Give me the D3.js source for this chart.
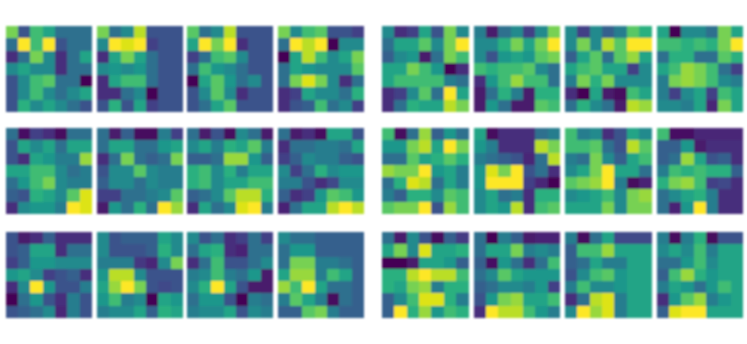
<!DOCTYPE html>
<html>
<head>
<meta charset="utf-8">
<script src="https://cdnjs.cloudflare.com/ajax/libs/d3/7.8.5/d3.min.js"></script>
<style>
    html, body { margin: 0; padding: 0; background: #fff; }
    svg { display: block; }
</style>
</head>
<body>
<svg id="chart" width="747" height="344"></svg>
<script>
// values, 0 (dark purple) .. 9 (yellow)
var a1 = [[7,2,6,5,3,3,3],[3,9,6,9,2,3,3],[1,3,7,4,1,3,5],[4,5,4,4,1,3,3],[2,4,6,6.5,3,3,0],[2,4,6,4,3,4,5],[2,5.5,4,5,4,3,2]];
var a2 = [[7,3,4,8,2,2,2],[4,9,8.5,9,1.5,2,2],[1,5,7,5,3,2,2],[4,4.5,4,4.5,3,2,2],[1,5,6,6,3,2,2],[1,1,3,4,0,2,2],[2,5.5,2,5,1.5,2,2]];
var a3 = [[6.5,3,4,8,2,2,2],[5,9,7,9,1,2,2],[1.5,3,6,6.5,4,2,2],[3,6,4.5,4,3,2,2],[0,5,6.5,4.5,3,4,2],[2,4,6.5,4,1,2,2],[2,3,5,6.5,2,2,2]];
var a4 = [[7,4,6,6.5,2,2,1.5],[3,9,8,9,0,4,4],[0,5,8,6,4,5,7],[3,5,4.5,4,4,4,6.5],[3,7,8.5,7,4,1,3],[1,1.5,5,4,4,3,5.5],[1,2,2.5,6,3,4,1.5]];
var a5 = [[4,1,1.5,5,2,7,4],[3,5,5,6.5,4,7,9],[2.5,4,4.5,0.5,3,7,6],[5,5,7,6,4.5,0,1],[5,6,6,6,6,3.5,3],[1,1.5,4,6.5,3,9,5],[1,3,5.5,5,5,8,7]];
var a6 = [[3.5,0.5,3,4,1.5,4,7],[4,4,5.5,7,5,7,9],[4,2,4.5,5,4.5,6.5,7],[6,5.5,6,6,6.5,4,3],[1,4.5,6,7.5,6,6,3],[0.5,3,5.5,3.5,0.5,5.5,5.5],[0.5,4.5,3,0.5,0.5,6.5,6]];
var a7 = [[4,1.5,4,2.5,3.5,6.5,5.5],[4,7,4,8,6.5,9,9],[2.5,5,6.5,3,6.5,7.5,5],[5,6,6.5,5,5,1.5,4],[3.5,7,5.5,7,4,4,4],[1,0,5,0.5,0.2,6,5],[3,5.5,4,3,0.5,8,7.5]];
var a8 = [[5,0,4,4,3,7,5],[6,6,5.5,6,5.5,7,9],[3,5.5,5.5,3,3,6.5,5.5],[5,6,7.5,7,6,3,1.5],[3.5,7,7.5,7,6,4,3.5],[3.5,1.5,4,5,1.5,6,5],[4,4,3.5,5,0.8,7,5]];

var b1 = [[3,0.3,1.5,1,0.2,3,3],[2,5,4,5,3,5,5],[2,1,5,4.5,3.5,3.5,7.5],[5,5,6,6,4,3,3.5],[3,4.5,6,7,4,3.5,3.5],[2.5,2,5.5,5,4,6.5,8.5],[1,4,4.5,4.5,3.5,9,8.5]];
var b2 = [[3,0.5,2.5,0.2,0.2,3.5,1.5],[3,5,5,3,3,4.5,5],[1,3,7,3,2.5,3,7],[2,4,4,6.5,4,3.5,3.5],[2.5,4,4,3,4,3.5,3.5],[1.5,1.5,3,3,3.5,4,6.5],[0.5,4.5,3,5.5,3,9,7.5]];
var b3 = [[3,0.5,2,0.2,4,3,0.5],[4,5,3.5,5.5,5,6.5,3.5],[2.5,2.5,3,7.5,7.5,4.5,2.5],[5.5,6,4,5.5,3.5,5,5],[5.5,6,4,5,5,6,6],[2.5,3,4,6.5,8,8,5.5],[1,5,3,4,8.5,9,3.5]];
var b4 = [[3,0.5,1,0.2,5,5,2],[1,3,3,3.5,3.5,3,5],[1.5,2.5,4,3.5,3.5,2.5,2],[4,1.5,3,5.5,4,4.5,4.5],[3.5,3.5,2,1,1.7,4,4],[2.5,1,1.5,4.5,6.5,6,4.5],[0.7,3,5,5,8,9,8]];
var b5 = [[6,0.2,3,7.5,2.5,4.5,3],[4.5,4.5,7,8,5,9,7],[3,3,6.5,5,5.5,6.5,5.5],[7.5,7,7,9,4.5,5,3.5],[3,5.5,8.5,8,3,5,3.5],[3.5,2.5,5.5,5.5,4,6.5,6],[6.5,7,7,9,2,7.5,6]];
var b6 = [[5,0.2,1,1,1,3,3.5],[4.5,3.5,1,1,1,8,7],[3.5,3,2.5,2,0.8,3,8],[4.5,8.5,7,9,2,3,1],[4.5,9,9,9,1.5,0.8,0],[4,5,3,3.5,1,5.5,5.5],[4,5,4.5,8,1,6,6.5]];
var b7 = [[6,3.5,4,1,2,5,4],[6,6,6.5,3,2,8,6.5],[3.5,3,7,4,2.5,5,6],[4,5,7,9,5,5,3],[6.5,7,7.5,9,3.5,0.2,0.7],[4,4.5,5,6,4,7,7.5],[5,5,5,7,4,7,7]];
var b8 = [[6,0.3,0.3,0.8,0.8,0.8,0.8],[2.5,2.5,4.5,0.5,1,1,1],[2.5,3,7.5,5,2,2.5,1],[3.5,6,5.5,6,5.5,5.5,2.5],[5.5,7,7.5,6,1.5,1.7,1],[3,4,5,5.5,3.5,1,1],[3,0.7,4.5,9,3.5,1,1]];

var c1 = [[2,0.5,1,2.5,1,1,1],[2,2.5,5,5,1,3,3],[1.5,2.5,4.5,4.5,4,4,4],[4.5,5,4,1.5,2,2.5,1],[1,4,9,4.5,2,2,3.5],[0,3,4.5,2,1,3.5,2],[2,2.5,3,4,0.8,3.5,2]];
var c2 = [[4,2,2.5,2.5,2.5,5,4],[4,2,2,2,2.5,5.5,4],[3.5,3.5,3.5,1.2,0.8,4,7],[4.5,8,8,4,2,2,2],[5,7.5,9,7,2,1.7,2],[4.5,6,3.5,4,0,5,4.5],[3.5,4,4,5,2.5,5.5,5]];
var c3 = [[4,2,3,1,1.5,3,1.5],[3,5,5.5,1,0.7,3,3],[1,3,6,2,2,3,4],[3.5,4,6,3.5,3,4.5,0.5],[4,5.5,9,5,2,0.5,0.5],[3,4.5,4.5,2,0,3.5,3],[3.5,4,4,5,2,4,3.5]];
var c4 = [[4,3,3,2.5,2.5,2.5,2.5],[3,4.5,4.5,2.5,2.5,2.5,2.5],[3,7,7,3.5,3.5,3,2.5],[5,7.5,7.5,3.5,6,5,2.5],[7.5,6,9,5,3,3,2.5],[3.5,6.5,5,3.5,0.2,3,2.5],[2.5,2.5,6.5,7,3.5,2.5,2.5]];
var c5 = [[3,0.5,4,2,0.2,2.5,1.3],[5,7,4,8.5,5,5,5.5],[0,0,0.5,5,5,4.5,2.5],[5.5,5.5,8,9,8,8,6],[5.5,5,7,7.5,3.5,5.5,5.5],[2.5,4,6,8.5,8.5,5.5,3.5],[2.5,9,5.5,7.5,4.5,6,5.5]];
var c6 = [[3,0,3.5,2.5,0.5,0.7,0.7],[3,5,5,7,3.5,4,3.5],[2.5,0.3,4.5,3,1,3,6],[3,4,6.5,5,4.5,4.5,4.5],[2.5,3,4,4,3.5,4.5,1.5],[2,4.5,7,7.5,5,5,6],[1,9,8,8,6,4.5,3.5]];
var c7 = [[3.5,0.2,3,5,1.7,1.7,1.7],[2.5,6,6,7.5,5,5,5],[2.5,3,5,3.5,3.5,5,5],[2,4,6,6.5,4.5,5,5],[3.5,6,4,4,4.5,5,5],[1,3,8,8.5,3.5,5,5],[4,9,7.5,8.5,3.5,5,5]];
var c8 = [[3.5,0.2,3.5,5.5,0.2,2,2],[4,5,4,6,3.5,5,5],[3,3,4.5,6,4,5,5],[2.5,6,7.5,5.5,4.5,5,5],[3.5,5,4.5,3,4.5,6,5],[1,4.5,6.5,7.5,3.5,4.5,5],[2.5,8.5,9,9,5,5,5]];

var panels = [
    [a1, a2, a3, a4, a5, a6, a7, a8],
    [b1, b2, b3, b4, b5, b6, b7, b8],
    [c1, c2, c3, c4, c5, c6, c7, c8]
];

// layout
var panelW = 86.5, panelH = 86;
var panelLeft = [5.5, 96.5, 186.5, 277.5, 382, 473.5, 565, 656.5];
var panelTop = [26, 128, 232];

var color = d3.scaleSequentialPow(d3.interpolateViridis).exponent(0.92).domain([0, 9]);
var cellX = d3.scaleBand().domain(d3.range(7)).range([0, panelW]);
var cellY = d3.scaleBand().domain(d3.range(7)).range([0, panelH]);

var svg = d3.select("#chart");

// the source is a soft, upscaled picture
svg.append("defs").append("filter")
    .attr("id", "soft")
    .attr("x", "-5%").attr("y", "-5%").attr("width", "110%").attr("height", "110%")
    .append("feGaussianBlur")
    .attr("stdDeviation", 0.9);

var root = svg.append("g").attr("filter", "url(#soft)");

panels.forEach(function (row, r) {
    row.forEach(function (grid, p) {
        var g = root.append("g")
            .attr("transform", "translate(" + panelLeft[p] + "," + panelTop[r] + ")")
            .attr("shape-rendering", "crispEdges");

        var rows = g.selectAll("g")
            .data(grid)
            .enter().append("g")
            .attr("transform", function (d, i) { return "translate(0," + cellY(i) + ")"; });

        rows.selectAll("rect")
            .data(function (d) { return d; })
            .enter().append("rect")
            .attr("x", function (d, i) { return cellX(i); })
            .attr("width", cellX.bandwidth())
            .attr("height", cellY.bandwidth())
            .attr("fill", function (d) { return color(d); });
    });
});
</script>
</body>
</html>
